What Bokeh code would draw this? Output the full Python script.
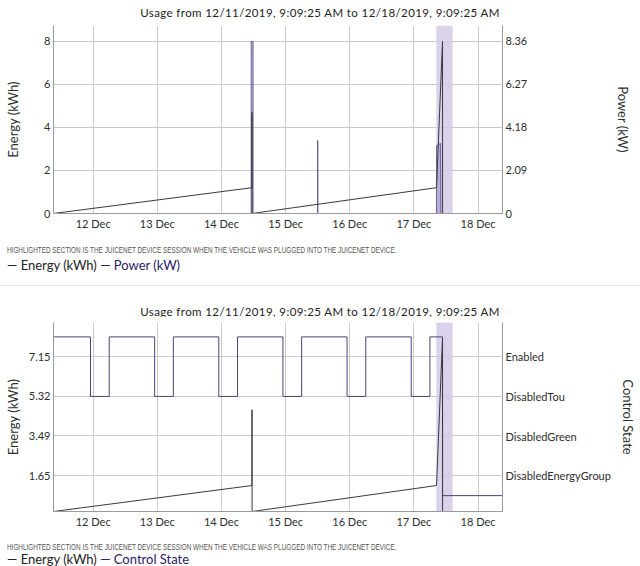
import datetime as dt
from bokeh.plotting import figure
from bokeh.models import Range1d, LinearAxis, FixedTicker, DatetimeTickFormatter, Div, BoxAnnotation
from bokeh.layouts import column
from bokeh.embed import file_html
from bokeh.resources import INLINE


def T(s):
    return dt.datetime.strptime(s, "%Y-%m-%d %H:%M:%S")


# ---------------- data ----------------
title_text = "Usage from 12/11/2019, 9:09:25 AM to 12/18/2019, 9:09:25 AM"
note_text = ("HIGHLIGHTED SECTION IS THE JUICENET DEVICE SESSION WHEN THE VEHICLE "
             "WAS PLUGGED INTO THE JUICENET DEVICE.")
x_start = "2019-12-11 09:09:25"
x_end = "2019-12-18 09:09:25"
day_ticks = ["2019-12-12 00:00:00", "2019-12-13 00:00:00", "2019-12-14 00:00:00",
             "2019-12-15 00:00:00", "2019-12-16 00:00:00", "2019-12-17 00:00:00",
             "2019-12-18 00:00:00"]
session_start = "2019-12-17 08:25:00"
session_end = "2019-12-17 14:30:00"

energy_times = ["2019-12-11 09:09:25", "2019-12-14 11:25:00", "2019-12-14 11:26:00",
                "2019-12-14 11:28:00", "2019-12-17 08:28:00", "2019-12-17 10:43:00",
                "2019-12-17 10:44:00", "2019-12-18 09:09:25"]
energy_kwh = [0.0, 1.2, 4.7, 0.0, 1.2, 8.0, 0.0, 0.0]

power_times = ["2019-12-11 09:09:25", "2019-12-14 11:05:00", "2019-12-14 11:06:00",
               "2019-12-14 11:50:00", "2019-12-14 11:51:00", "2019-12-15 12:00:00",
               "2019-12-15 12:01:00", "2019-12-15 12:03:00", "2019-12-17 08:28:00",
               "2019-12-17 08:29:00", "2019-12-17 10:00:00", "2019-12-17 10:05:00",
               "2019-12-18 09:09:25"]
power_kw = [0.0, 0.0, 8.36, 8.36, 0.0, 0.0, 3.55, 0.0, 0.0, 3.3, 3.4, 0.0, 0.0]

state_times = ["2019-12-11 09:09:25", "2019-12-11 23:00:00", "2019-12-12 06:00:00",
               "2019-12-12 23:00:00", "2019-12-13 06:00:00", "2019-12-13 23:00:00",
               "2019-12-14 06:00:00", "2019-12-14 23:00:00", "2019-12-15 06:00:00",
               "2019-12-15 23:00:00", "2019-12-16 06:00:00", "2019-12-16 23:00:00",
               "2019-12-17 06:00:00", "2019-12-17 10:43:00", "2019-12-18 09:09:25"]
state_level = [4.5, 3, 4.5, 3, 4.5, 3, 4.5, 3, 4.5, 3, 4.5, 3, 4.5, 0.5, 0.5]
state_names = ["DisabledEnergyGroup", "DisabledGreen", "DisabledTou", "Enabled"]
state_ticks = [1, 2, 3, 4]

energy_ticks_top = [0, 2, 4, 6, 8]
power_ticks = [0, 2.09, 4.18, 6.27, 8.36]
energy_ticks_bottom = [1.65, 3.49, 5.32, 7.15]

# ---------------- styling ----------------
FONT = "Lato"
GRID = "#c9c9c9"
AXIS = "#9a9a9a"
TXT = "#2e2e2e"
ENERGY_C = "#3a3a3a"
POWER_C = "#2b2163"
STATE_C = "#4a4577"
BAND_C = "#d3c9e8"
W = 640


def ms(s):
    return (T(s) - dt.datetime(1970, 1, 1)).total_seconds() * 1000.0


def style_axis(ax, standoff, label_standoff):
    ax.axis_line_color = AXIS
    ax.major_tick_line_color = None
    ax.minor_tick_line_color = None
    ax.major_tick_out = 0
    ax.major_tick_in = 0
    ax.minor_tick_out = 0
    ax.minor_tick_in = 0
    ax.major_label_text_font = FONT
    ax.major_label_text_font_size = "11px"
    ax.major_label_text_color = TXT
    ax.major_label_standoff = standoff
    ax.axis_label_text_font = FONT
    ax.axis_label_text_font_size = "13px"
    ax.axis_label_text_font_style = "normal"
    ax.axis_label_text_color = TXT
    ax.axis_label_standoff = label_standoff


def base_fig(frame_h, top, bottom, y_end):
    p = figure(frame_width=449, frame_height=frame_h, x_axis_type="datetime",
               x_range=Range1d(ms(x_start), ms(x_end)),
               y_range=Range1d(0, y_end),
               output_backend="svg", toolbar_location=None,
               min_border_left=53, min_border_right=136,
               min_border_top=top, min_border_bottom=bottom)
    p.outline_line_color = None
    p.background_fill_color = "white"
    p.border_fill_color = "white"
    p.xaxis.ticker = FixedTicker(ticks=[ms(d) for d in day_ticks])
    p.xaxis.formatter = DatetimeTickFormatter(days="%d %b", months="%d %b", hours="%d %b")
    style_axis(p.xaxis[0], 3, 0)
    p.xgrid.grid_line_color = GRID
    p.ygrid.grid_line_color = GRID
    p.add_layout(BoxAnnotation(left=ms(session_start), right=ms(session_end),
                               fill_color=BAND_C, fill_alpha=0.85, line_color=None,
                               level="underlay"))
    return p


def div(html, height, style):
    return Div(text=f'<div style="{style}">{html}</div>', width=W, height=height,
               styles={"margin": "0", "padding": "0"})


t_style = (f"font-family:{FONT};font-size:11.5px;letter-spacing:0.4px;color:#222;"
           f"text-align:center;width:{W}px;white-space:nowrap")
n_style = ("font-family:'Liberation Sans',sans-serif;font-size:8.5px;"
           "color:#555;line-height:10px;white-space:nowrap;display:inline-block;"
           "transform:scaleX(0.75);transform-origin:0 0;margin-left:7px")
l_style = (f"font-family:{FONT};font-size:13px;white-space:nowrap;padding-left:7px;"
           "line-height:13px")

# ---------------- chart 1 ----------------
p1 = base_fig(188, 5, 22, 8.74)
p1.extra_y_ranges = {"power": Range1d(0, 8.74 * 1.045)}
p1.yaxis.ticker = FixedTicker(ticks=energy_ticks_top)
p1.yaxis.axis_label = "Energy (kWh)"
style_axis(p1.yaxis[0], 3, 20)
rax = LinearAxis(y_range_name="power", axis_label="Power (kW)",
                 ticker=FixedTicker(ticks=power_ticks))
style_axis(rax, 3, 85)
p1.add_layout(rax, "right")
p1.varea(x=[ms(t) for t in power_times], y1=0, y2=power_kw, y_range_name="power",
         fill_color="#b2a8d6", fill_alpha=0.9)
p1.line([ms(t) for t in power_times], power_kw, y_range_name="power",
        line_color=POWER_C, line_width=1, line_alpha=0.6)
p1.line([ms(t) for t in energy_times], energy_kwh, line_color=ENERGY_C, line_width=1)

# ---------------- chart 2 ----------------
p2 = base_fig(189, 6, 22, 8.73)
p2.extra_y_ranges = {"state": Range1d(0.1, 0.1 + 8.73 / 1.833)}
p2.yaxis.ticker = FixedTicker(ticks=energy_ticks_bottom)
p2.yaxis.axis_label = "Energy (kWh)"
style_axis(p2.yaxis[0], 3, 5)
sax = LinearAxis(y_range_name="state", axis_label="Control State",
                 ticker=FixedTicker(ticks=state_ticks),
                 major_label_overrides={t: n for t, n in zip(state_ticks, state_names)})
style_axis(sax, 3, 6)
p2.add_layout(sax, "right")
p2.step([ms(t) for t in state_times], state_level, mode="after", y_range_name="state",
        line_color=STATE_C, line_width=1)
p2.line([ms(t) for t in energy_times], energy_kwh, line_color=ENERGY_C, line_width=1)

legend1 = (f'<span style="color:#222">&mdash; Energy (kWh)</span> '
           f'<span style="color:{POWER_C}">&mdash; Power (kW)</span>')
legend2 = (f'<span style="color:#222">&mdash; Energy (kWh)</span> '
           f'<span style="color:{POWER_C}">&mdash; Control State</span>')

layout = column(
    div(title_text, 20, t_style + ";line-height:26px"),
    p1,
    div(f'<div style="{n_style}">{note_text}</div>', 22, "padding-top:6px"),
    div(legend1, 16, l_style + ";padding-top:2px"),
    div("", 31, f"height:13px;border-bottom:1px solid #e6e6e6;width:{W}px"),
    div(title_text, 12, t_style + ";line-height:12px"),
    p2,
    div(f'<div style="{n_style}">{note_text}</div>', 19, "padding-top:5px"),
    div(legend2, 13, l_style),
    spacing=0,
)

html = file_html(layout, INLINE)
html = html.replace("<head>", "<head><style>html,body{overflow:hidden;}</style>", 1)
open("out.html", "w").write(html)
